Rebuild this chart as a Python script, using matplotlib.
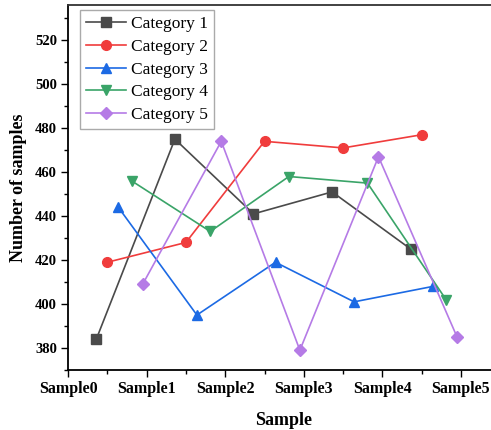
import matplotlib
matplotlib.use("Agg")
import matplotlib.pyplot as plt
from matplotlib.ticker import MultipleLocator

#data
samples = ["Sample0", "Sample1", "Sample2", "Sample3", "Sample4", "Sample5"]
categories = ["Category 1", "Category 2", "Category 3", "Category 4", "Category 5"]

cat1 = [384, 475, 441, 451, 425]
cat2 = [419, 428, 474, 471, 477]
cat3 = [444, 395, 419, 401, 408]
cat4 = [456, 433, 458, 455, 402]
cat5 = [409, 474, 379, 467, 385]

#where each category sits inside a sample interval
offsets = [0.36, 0.5, 0.64, 0.81, 0.95]

colors = ["#4a4a4a", "#f03c3c", "#1c6ae4", "#3aa468", "#b57be6"]
markers = ["s", "o", "^", "v", "D"]
msizes = [6.5, 7, 7, 7, 6]

plt.rcParams["font.family"] = ["Liberation Serif", "DejaVu Serif"]

fig = plt.figure(figsize=(4.91, 4.30), dpi=100)
W, H = 491.0, 430.0
ax = fig.add_axes([68/W, 60/H, 432/W, 365/H])

series = [cat1, cat2, cat3, cat4, cat5]
for i in range(len(series)):
    xs = [j + offsets[i] for j in range(len(series[i]))]
    ax.plot(xs, series[i], color=colors[i], lw=1.2, marker=markers[i],
            markersize=msizes[i], markerfacecolor=colors[i], markeredgecolor=colors[i],
            label=categories[i])

ax.set_xlim(0, 432/78.6)
ax.set_ylim(370, 536)

ax.set_xticks(range(len(samples)))
ax.set_xticklabels(samples, fontsize=11.5, fontweight="bold")
ax.xaxis.set_minor_locator(MultipleLocator(0.5))
ax.yaxis.set_minor_locator(MultipleLocator(10))
ax.set_yticks([380, 400, 420, 440, 460, 480, 500, 520])
for t in ax.get_yticklabels():
    t.set_fontsize(10.5)
    t.set_fontweight("bold")

ax.tick_params(which="major", direction="out", length=5, width=1.0, pad=3)
ax.tick_params(which="minor", direction="out", length=3, width=1.0)

for s in ["left", "bottom", "top"]:
    ax.spines[s].set_linewidth(1.3)
ax.spines["top"].set_color("#333333")
ax.spines["right"].set_visible(False)

ax.set_xlabel("Sample", fontsize=13, fontweight="bold", labelpad=11)
ax.set_ylabel("Number of samples", fontsize=13, fontweight="bold", labelpad=6)

leg = ax.legend(loc="upper left", bbox_to_anchor=(12/432, 360/365), borderaxespad=0,
                fontsize=12.5, handlelength=2.3, labelspacing=0.38, borderpad=0.35,
                handletextpad=0.3, fancybox=False, framealpha=1.0)
leg.get_frame().set_edgecolor("#aaaaaa")
leg.get_frame().set_linewidth(1.0)

fig.savefig("out.png", dpi=100)
